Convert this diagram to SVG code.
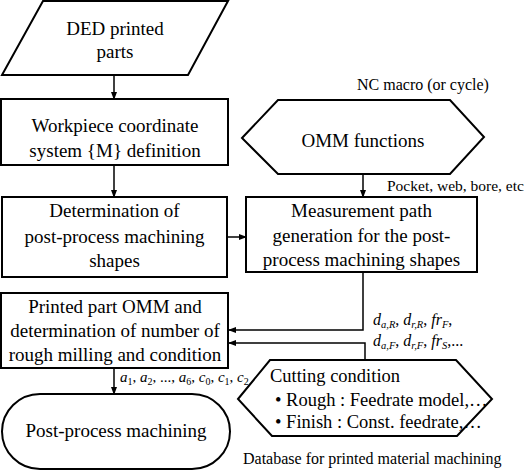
<svg xmlns="http://www.w3.org/2000/svg" width="525" height="471" viewBox="0 0 525 471" font-family="'Liberation Serif', 'Times New Roman', serif">
<defs>
<style>
.n{fill:#fff;stroke:#000;stroke-width:2}
.t{font-family:'Liberation Serif','Times New Roman',serif;font-size:19px;fill:#000;text-anchor:middle}
.s{font-family:'Liberation Serif','Times New Roman',serif;font-size:16px;fill:#000}
.c{font-family:'Liberation Serif','Times New Roman',serif;font-size:18.5px;fill:#000}
.m{font-family:'Liberation Serif','Times New Roman',serif;font-size:16px;fill:#000;font-style:italic}
.sb{font-size:10.5px}
.e{fill:none;stroke:#000;stroke-width:1.5}
</style>
<marker id="ah" markerWidth="8" markerHeight="6" refX="7" refY="3" orient="auto" markerUnits="userSpaceOnUse">
<path d="M0,0 L8,3 L0,6 Z" fill="#000"/>
</marker>
</defs>
<rect width="525" height="471" fill="#fff"/>

<g id="connectors">
<path class="e" d="M114,75 V99" marker-end="url(#ah)"/>
<path class="e" d="M114,165 V197" marker-end="url(#ah)"/>
<path class="e" d="M227,237 H246" marker-end="url(#ah)"/>
<path class="e" d="M363,174 V197" marker-end="url(#ah)"/>
<path class="e" d="M363,272 V330 H229" marker-end="url(#ah)"/>
<path class="e" d="M365,360 V343 H229" marker-end="url(#ah)"/>
<path class="e" d="M114,368 V394" marker-end="url(#ah)"/>
</g>

<g id="ded-printed-parts">
<polygon class="n" points="43,1 228,1 188,75 2,75"/>
<text class="t" x="115" y="35">DED printed</text>
<text class="t" x="115" y="58">parts</text>
</g>

<g id="workpiece-coordinate">
<rect class="n" x="1" y="99" width="227" height="66"/>
<text class="t" x="115" y="132">Workpiece coordinate</text>
<text class="t" x="115" y="157">system {M} definition</text>
</g>

<g id="omm-functions">
<polygon class="n" points="242,138 278,100 450,100 484,137 450,174 278,174"/>
<text class="t" x="363" y="147">OMM functions</text>
</g>
<text class="s" x="357" y="90">NC macro (or cycle)</text>
<text class="s" x="387" y="191" style="font-size:15.5px">Pocket, web, bore, etc</text>

<g id="determination-shapes">
<rect class="n" x="2" y="197" width="225" height="80"/>
<text class="t" x="114.5" y="217">Determination of</text>
<text class="t" x="114.5" y="243">post-process machining</text>
<text class="t" x="114.5" y="267">shapes</text>
</g>

<g id="measurement-path">
<rect class="n" x="246" y="197" width="231" height="75"/>
<text class="t" x="361.5" y="217">Measurement path</text>
<text class="t" x="361.5" y="242">generation for the post-</text>
<text class="t" x="361.5" y="266">process machining shapes</text>
</g>

<g id="printed-part-omm">
<rect class="n" x="1" y="293" width="227" height="75"/>
<text class="t" x="115" y="313">Printed part OMM and</text>
<text class="t" x="115" y="337">determination of number of</text>
<text class="t" x="115" y="361">rough milling and condition</text>
</g>

<text class="m" x="373" y="325">d<tspan class="sb" dy="3">a,R</tspan><tspan dy="-3" font-style="normal">, </tspan>d<tspan class="sb" dy="3">r,R</tspan><tspan dy="-3" font-style="normal">, </tspan>fr<tspan class="sb" dy="3">F</tspan><tspan dy="-3" font-style="normal">,</tspan></text>
<text class="m" x="373" y="346">d<tspan class="sb" dy="3">a,F</tspan><tspan dy="-3" font-style="normal">, </tspan>d<tspan class="sb" dy="3">r,F</tspan><tspan dy="-3" font-style="normal">, </tspan>fr<tspan class="sb" dy="3">S</tspan><tspan dy="-3" font-style="normal">,...</tspan></text>

<text class="m" x="120" y="382" style="font-size:15px">a<tspan class="sb" dy="3" font-style="normal" style="font-size:10px">1</tspan><tspan dy="-3" font-style="normal">, </tspan>a<tspan class="sb" dy="3" font-style="normal" style="font-size:10px">2</tspan><tspan dy="-3" font-style="normal">, ..., </tspan>a<tspan class="sb" dy="3" font-style="normal" style="font-size:10px">6</tspan><tspan dy="-3" font-style="normal">, </tspan>c<tspan class="sb" dy="3" font-style="normal" style="font-size:10px">0</tspan><tspan dy="-3" font-style="normal">, </tspan>c<tspan class="sb" dy="3" font-style="normal" style="font-size:10px">1</tspan><tspan dy="-3" font-style="normal">, </tspan>c<tspan class="sb" dy="3" font-style="normal" style="font-size:10px">2</tspan></text>

<g id="cutting-condition">
<polygon class="n" points="238,399 270,360 456,360 492,399 457,436 272,436"/>
<text class="c" x="270" y="382">Cutting condition</text>
<text class="c" x="275" y="406">• Rough : Feedrate model,…</text>
<text class="c" x="275" y="428">• Finish : Const. feedrate,…</text>
</g>
<text class="s" x="243" y="464">Database for printed material machining</text>

<g id="post-process-machining">
<rect class="n" x="2" y="394" width="228" height="75" rx="38" ry="37.5"/>
<text class="t" x="116" y="437">Post-process machining</text>
</g>
</svg>
